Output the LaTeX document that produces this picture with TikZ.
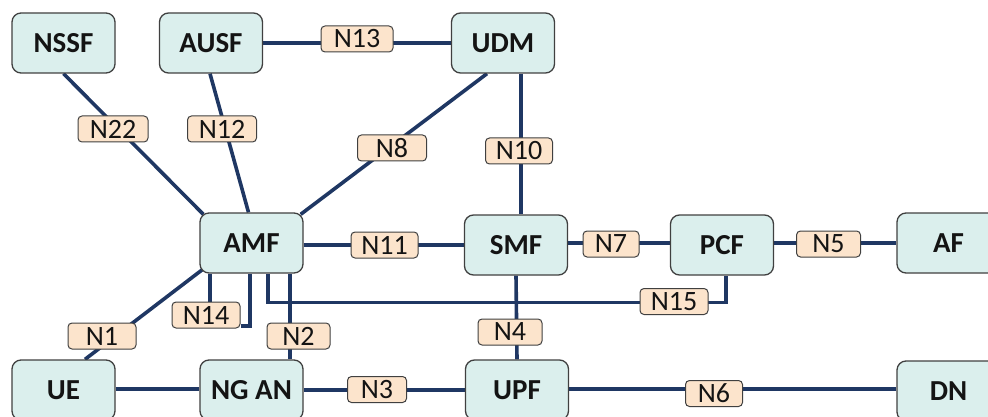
\documentclass[tikz,border=0pt]{standalone}
\usepackage{fontspec}
\setmainfont{Carlito}
\usetikzlibrary{backgrounds}
\definecolor{nffill}{HTML}{DBEFED}
\definecolor{lblfill}{HTML}{FCE4CC}
\definecolor{boxline}{HTML}{404040}
\definecolor{navy}{HTML}{1F3763}
\definecolor{txt}{HTML}{141414}
\begin{document}
\begin{tikzpicture}[x=1pt,y=-1pt,
  nf/.style={draw=boxline, line width=1.3pt, fill=nffill, rounded corners=9pt,
    minimum width=103pt, minimum height=60pt, inner sep=0pt,
    font=\bfseries\fontsize{29}{32}\selectfont, text=txt},
  lbl/.style={draw=boxline, line width=1pt, fill=lblfill, rounded corners=4pt,
    minimum width=66pt, minimum height=26pt, inner sep=0pt,
    font=\fontsize{28}{30}\selectfont, text=txt},
  link/.style={draw=navy, line width=3.6pt}]
\useasboundingbox (0,0) rectangle (988,417);
\clip (0,0) rectangle (988,417);

% network functions
\node[nf] (NSSF) at (63.5,43)  {NSSF};
\node[nf] (AUSF) at (211,43)   {AUSF};
\node[nf] (UDM)  at (503,43)   {UDM};
\node[nf] (AMF)  at (251.5,243) {AMF};
\node[nf] (SMF)  at (516,245)  {SMF};
\node[nf] (PCF)  at (722,245)  {PCF};
\node[nf] (AF)   at (948.5,243) {AF};
\node[nf] (UE)   at (63.5,390) {UE};
\node[nf] (NGAN) at (251.5,390) {NG AN};
\node[nf] (UPF)  at (517,390)  {UPF};
\node[nf] (DN)   at (948.5,391) {DN};

% interface labels
\node[lbl, minimum width=70pt] (l22) at (113,129) {N22};
\node[lbl, minimum width=69pt] (l12) at (222,129) {N12};
\node[lbl, minimum width=72pt] (l13) at (357,39)  {N13};
\node[lbl, minimum width=69pt] (l8)  at (392,148) {N8};
\node[lbl, minimum width=67pt] (l10) at (519,151) {N10};
\node[lbl, minimum width=67pt] (l11) at (384.5,245) {N11};
\node[lbl, minimum width=56pt] (l7)  at (611,244) {N7};
\node[lbl, minimum width=64pt] (l5)  at (828.5,244) {N5};
\node[lbl, minimum width=68pt] (l15) at (674,301.5) {N15};
\node[lbl, minimum width=68pt] (l14) at (206,315) {N14};
\node[lbl, minimum width=68pt] (l1)  at (102,336) {N1};
\node[lbl, minimum width=63pt] (l2)  at (298.5,336) {N2};
\node[lbl, minimum width=64pt] (l4)  at (510,332) {N4};
\node[lbl, minimum width=59pt] (l3)  at (377,389.5) {N3};
\node[lbl, minimum width=57pt] (l6)  at (714,393.5) {N6};

% interface connectors
\coordinate (a14) at ([shift={(-41.5,0)}]AMF.south);
\coordinate (b14) at ([shift={(-1.5,0)}]AMF.south);
\coordinate (a15) at ([shift={(16.5,0)}]AMF.south);
\coordinate (b15) at ([shift={(4,0)}]PCF.south);
\begin{scope}[on background layer]
  \draw[link] (NSSF.south) -- ([shift={(4,2)}]AMF.north west);
  \draw[link] ([shift={(-1,0)}]AUSF.south) -- ([shift={(-3,0)}]AMF.north);
  \draw[link] ([shift={(-16,0)}]UDM.south) -- ([shift={(-3,2)}]AMF.north east);
  \draw[link] ([shift={(18,0)}]UDM.south) -- ([shift={(5,0)}]SMF.north);
  \draw[link] (AUSF.east) -- (UDM.west);
  \draw[link] ([shift={(0,2)}]AMF.east) -- (SMF.west);
  \draw[link] ([shift={(0,-2)}]SMF.east) -- ([shift={(0,-2)}]PCF.west);
  \draw[link] ([shift={(0,-2)}]PCF.east) -- (AF.west);
  \draw[link] (a15) -- ++(0,29) -| (b15);
  \draw[link] (a14) -- (a14 |- l14.north);
  \draw[link] (b14) |- ([shift={(0,11)}]l14.east);
  \draw[link] ([shift={(38.5,0)}]AMF.south) -- ([shift={(38.5,0)}]NGAN.north);
  \draw[link] ([shift={(21.5,0)}]UE.north) -- ([shift={(3,-4)}]AMF.south west);
  \draw[link] ([shift={(0,-1)}]UE.east) -- ([shift={(0,-1)}]NGAN.west);
  \draw[link] (NGAN.east) -- (UPF.west);
  \draw[link] (SMF.south) -- (UPF.north);
  \draw[link] ([shift={(0,-1)}]UPF.east) -- ([shift={(0,-2)}]DN.west);
\end{scope}
\end{tikzpicture}
\end{document}
